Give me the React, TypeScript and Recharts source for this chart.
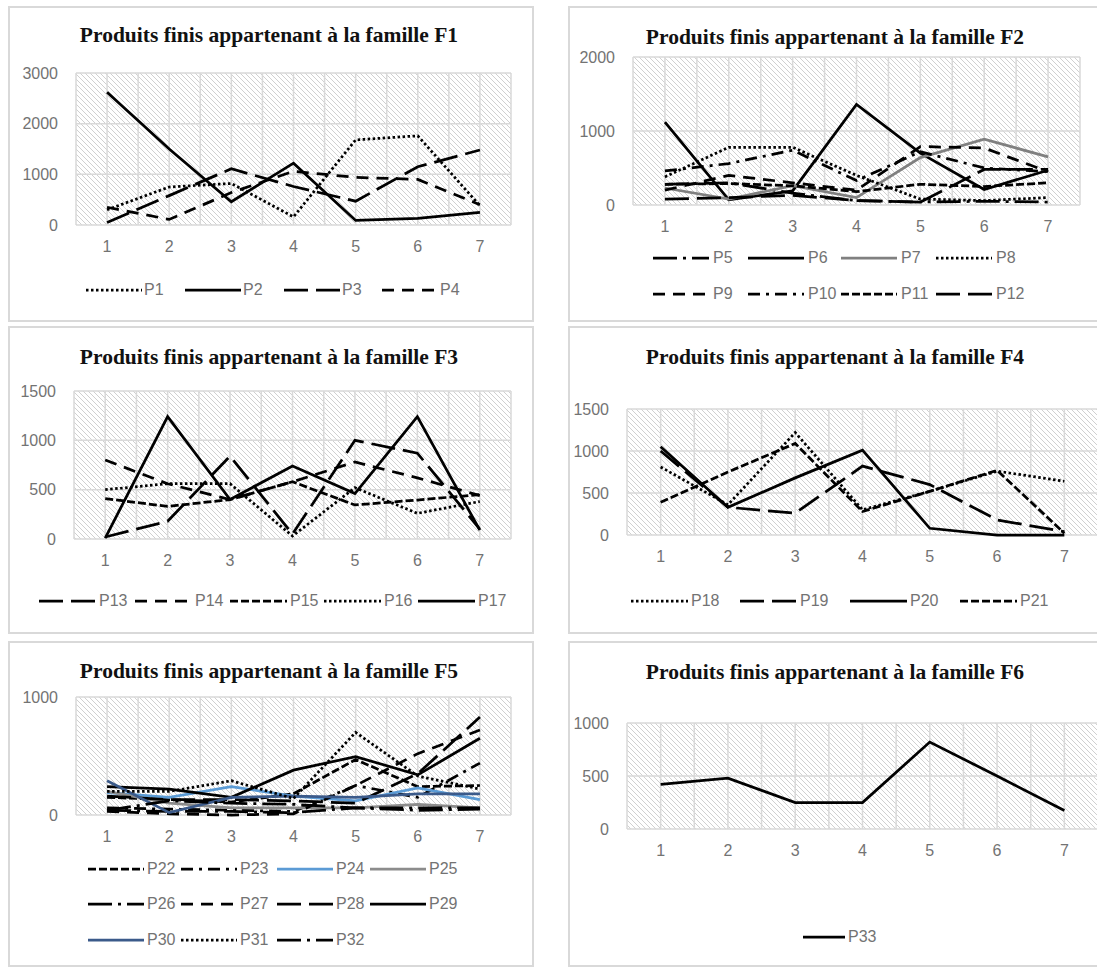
import { LineChart, Line, XAxis, YAxis, CartesianGrid } from 'recharts';

// periods on the x axis
const X = [1, 2, 3, 4, 5, 6, 7];
const HALF = [0.5, 1, 1.5, 2, 2.5, 3, 3.5, 4, 4.5, 5, 5.5, 6, 6.5, 7, 7.5];

// famille F1
const P1 = [300, 750, 820, 160, 1680, 1760, 380];
const P2 = [2620, 1500, 460, 1220, 90, 130, 250];
const P3 = [50, 580, 1110, 760, 470, 1150, 1480];
const P4 = [350, 110, 640, 1060, 940, 900, 400];

// famille F2
const P5 = [280, 300, 160, 60, 40, 50, 40];
const P6 = [1120, 70, 190, 1360, 700, 210, 470];
const P7 = [230, 80, 260, 100, 640, 890, 650];
const P8 = [380, 780, 780, 400, 80, 60, 100];
const P9 = [200, 400, 300, 200, 790, 770, 450];
const P10 = [460, 560, 740, 330, 720, 500, 450];
const P11 = [280, 290, 260, 180, 280, 250, 300];
const P12 = [80, 100, 130, 60, 40, 480, 480];

// famille F3
const P13 = [20, 180, 840, 50, 1000, 870, 100];
const P14 = [800, 560, 400, 580, 780, 620, 440];
const P15 = [410, 330, 400, 580, 345, 395, 450];
const P16 = [500, 560, 560, 30, 520, 260, 380];
const P17 = [10, 1240, 400, 740, 460, 1240, 90];

// famille F4
const P18 = [810, 360, 1220, 300, 520, 760, 640];
const P19 = [1000, 330, 260, 820, 600, 180, 40];
const P20 = [1050, 330, 680, 1010, 80, 0, 0];
const P21 = [390, 750, 1090, 280, 520, 770, 20];

// famille F5
const P22 = [150, 130, 110, 180, 470, 240, 250];
const P23 = [60, 50, 40, 30, 250, 150, 440];
const P24 = [190, 150, 240, 160, 120, 230, 130];
const P25 = [200, 100, 60, 60, 60, 90, 60];
const P26 = [40, 30, 30, 20, 60, 40, 50];
const P27 = [30, 10, 0, 10, 250, 520, 720];
const P28 = [160, 130, 130, 120, 100, 350, 830];
const P29 = [240, 220, 150, 380, 495, 340, 650];
const P30 = [290, 20, 150, 160, 150, 180, 180];
const P31 = [200, 200, 290, 140, 700, 330, 220];
const P32 = [40, 120, 100, 90, 60, 60, 60];

// famille F6
const P33 = [420, 480, 250, 250, 820, 500, 175];

const DASH: Record<string, string | undefined> = {
  solid: undefined,
  dot: '2.5 2.5',
  dash: '12 8',
  longDash: '24 8',
  dashDot: '12 6 3 6',
  longDashDot: '24 6 3 6',
  sysDash: '8 3',
};

const TICK = { fill: '#737373', fontSize: 16, fontFamily: '"Liberation Sans", Arial, sans-serif' };
const GRID = '#d9d9d9';
const LW = 2.75;

type Serie = { name: string; values: number[]; dash: string; color?: string };

const PANELS = [
  {
    title: 'Produits finis appartenant à la famille F1',
    box: { x: 8, y: 6, w: 526, h: 316 },
    plot: { l: 76, r: 511, t: 73, b: 225 },
    titleAt: [269, 35],
    yMax: 3000,
    yTicks: [0, 1000, 2000, 3000],
    legend: { cols: [86, 185, 284, 382], rows: [290], sample: 56, textOff: 58 },
    series: [
      { name: 'P1', values: P1, dash: 'dot' },
      { name: 'P2', values: P2, dash: 'solid' },
      { name: 'P3', values: P3, dash: 'longDash' },
      { name: 'P4', values: P4, dash: 'dash' },
    ],
  },
  {
    title: 'Produits finis appartenant à la famille F2',
    box: { x: 568, y: 6, w: 560, h: 316 },
    plot: { l: 633, r: 1080, t: 57, b: 205 },
    titleAt: [835, 37],
    yMax: 2000,
    yTicks: [0, 1000, 2000],
    legend: { cols: [653, 748, 841, 936], rows: [258, 294], sample: 56, textOff: 60 },
    series: [
      { name: 'P5', values: P5, dash: 'longDashDot' },
      { name: 'P6', values: P6, dash: 'solid' },
      { name: 'P7', values: P7, dash: 'solid', color: '#808080' },
      { name: 'P8', values: P8, dash: 'dot' },
      { name: 'P9', values: P9, dash: 'dash' },
      { name: 'P10', values: P10, dash: 'dashDot' },
      { name: 'P11', values: P11, dash: 'sysDash' },
      { name: 'P12', values: P12, dash: 'longDash' },
    ],
  },
  {
    title: 'Produits finis appartenant à la famille F3',
    box: { x: 8, y: 326, w: 526, h: 308 },
    plot: { l: 74, r: 511, t: 391, b: 539 },
    titleAt: [269, 357],
    yMax: 1500,
    yTicks: [0, 500, 1000, 1500],
    legend: { cols: [39, 135, 230, 324, 418], rows: [601], sample: 57, textOff: 60 },
    series: [
      { name: 'P13', values: P13, dash: 'longDash' },
      { name: 'P14', values: P14, dash: 'dash' },
      { name: 'P15', values: P15, dash: 'sysDash' },
      { name: 'P16', values: P16, dash: 'dot' },
      { name: 'P17', values: P17, dash: 'solid' },
    ],
  },
  {
    title: 'Produits finis appartenant à la famille F4',
    box: { x: 568, y: 326, w: 560, h: 308 },
    plot: { l: 627, r: 1098, t: 409, b: 535 },
    titleAt: [835, 357],
    yMax: 1500,
    yTicks: [0, 500, 1000, 1500],
    legend: { cols: [631, 740, 850, 960], rows: [601], sample: 57, textOff: 60 },
    series: [
      { name: 'P18', values: P18, dash: 'dot' },
      { name: 'P19', values: P19, dash: 'longDash' },
      { name: 'P20', values: P20, dash: 'solid' },
      { name: 'P21', values: P21, dash: 'sysDash' },
    ],
  },
  {
    title: 'Produits finis appartenant à la famille F5',
    box: { x: 8, y: 641, w: 526, h: 326 },
    plot: { l: 76, r: 511, t: 697, b: 815 },
    titleAt: [269, 671],
    yMax: 1000,
    yTicks: [0, 1000],
    legend: { cols: [88, 181, 277, 370], rows: [869, 904, 940], sample: 56, textOff: 59 },
    series: [
      { name: 'P22', values: P22, dash: 'sysDash' },
      { name: 'P23', values: P23, dash: 'dashDot' },
      { name: 'P24', values: P24, dash: 'solid', color: '#5b9bd5' },
      { name: 'P25', values: P25, dash: 'solid', color: '#8c8c8c' },
      { name: 'P26', values: P26, dash: 'longDashDot' },
      { name: 'P27', values: P27, dash: 'dash' },
      { name: 'P28', values: P28, dash: 'longDash' },
      { name: 'P29', values: P29, dash: 'solid' },
      { name: 'P30', values: P30, dash: 'solid', color: '#3b5a8a' },
      { name: 'P31', values: P31, dash: 'dot' },
      { name: 'P32', values: P32, dash: 'longDashDot' },
    ],
  },
  {
    title: 'Produits finis appartenant à la famille F6',
    box: { x: 568, y: 641, w: 560, h: 326 },
    plot: { l: 627, r: 1098, t: 723, b: 829 },
    titleAt: [835, 672],
    yMax: 1000,
    yTicks: [0, 500, 1000],
    legend: { cols: [803], rows: [937], sample: 42, textOff: 45 },
    series: [{ name: 'P33', values: P33, dash: 'solid' }],
  },
];

function Panel({ cfg }: { cfg: any }) {
  const { box, plot, series, legend, titleAt } = cfg;
  const data = X.map((x, i) => {
    const row: any = { x };
    series.forEach((s: Serie) => (row[s.name] = s.values[i]));
    return row;
  });
  const ncols = legend.cols.length;

  return (
    <>
      <div
        style={{
          position: 'absolute', left: box.x, top: box.y, width: box.w, height: box.h,
          border: `2px solid ${GRID}`, boxSizing: 'border-box', background: '#fff',
        }}
      />
      <div style={{ position: 'absolute', left: box.x, top: box.y }}>
        <LineChart
          width={box.w}
          height={box.h}
          data={data}
          margin={{ top: plot.t - box.y, right: box.x + box.w - plot.r, left: 0, bottom: 0 }}
        >
          <CartesianGrid stroke={GRID} strokeWidth={1.5} fill="url(#hatch)" fillOpacity={1} />
          <XAxis
            dataKey="x"
            type="number"
            domain={[0.5, 7.5]}
            ticks={HALF}
            interval={0}
            tickFormatter={(v: number) => (Number.isInteger(v) ? String(v) : '')}
            axisLine={false}
            tickLine={false}
            tickMargin={10}
            height={box.y + box.h - plot.b}
            tick={TICK}
          />
          <YAxis
            type="number"
            domain={[0, cfg.yMax]}
            ticks={cfg.yTicks}
            interval={0}
            axisLine={false}
            tickLine={false}
            tickMargin={12}
            width={plot.l - box.x}
            tick={TICK}
          />
          {series.map((s: Serie) => (
            <Line
              key={s.name}
              dataKey={s.name}
              type="linear"
              stroke={s.color ?? '#000'}
              strokeWidth={LW}
              strokeDasharray={DASH[s.dash]}
              dot={false}
              activeDot={false}
              isAnimationActive={false}
            />
          ))}
        </LineChart>
      </div>
      <div
        style={{
          position: 'absolute', left: titleAt[0] - 300, top: titleAt[1] - 13, width: 600,
          textAlign: 'center', fontFamily: '"Liberation Serif", "Times New Roman", serif',
          fontWeight: 'bold', fontSize: 21.5, lineHeight: '26px', color: '#111',
        }}
      >
        {cfg.title}
      </div>
      {series.map((s: Serie, i: number) => {
        const x = legend.cols[i % ncols];
        const y = legend.rows[Math.floor(i / ncols)];
        return (
          <div key={s.name} style={{ position: 'absolute', left: x, top: y - 9, height: 18 }}>
            <svg width={legend.sample} height={18} style={{ position: 'absolute', left: 0, top: 0 }}>
              <line
                x1={0} y1={9} x2={legend.sample} y2={9}
                stroke={s.color ?? '#000'} strokeWidth={LW} strokeDasharray={DASH[s.dash]}
              />
            </svg>
            <span
              style={{
                position: 'absolute', left: legend.textOff, top: 0, lineHeight: '18px',
                fontSize: 16, color: TICK.fill, fontFamily: TICK.fontFamily, whiteSpace: 'nowrap',
              }}
            >
              {s.name}
            </span>
          </div>
        );
      })}
    </>
  );
}

export default function App() {
  return (
    <div
      style={{
        position: 'absolute', left: 0, top: 0, width: 1097, height: 967,
        overflow: 'hidden', background: '#fff',
      }}
    >
      <svg width={0} height={0} style={{ position: 'absolute' }}>
        <defs>
          <pattern id="hatch" patternUnits="userSpaceOnUse" width={5} height={5}>
            <path d="M0,0 L5,5 M-1,4 L1,6 M4,-1 L6,1" stroke="#d0d0d0" strokeWidth={1} />
          </pattern>
        </defs>
      </svg>
      {PANELS.map((p) => (
        <Panel key={p.title} cfg={p} />
      ))}
    </div>
  );
}
